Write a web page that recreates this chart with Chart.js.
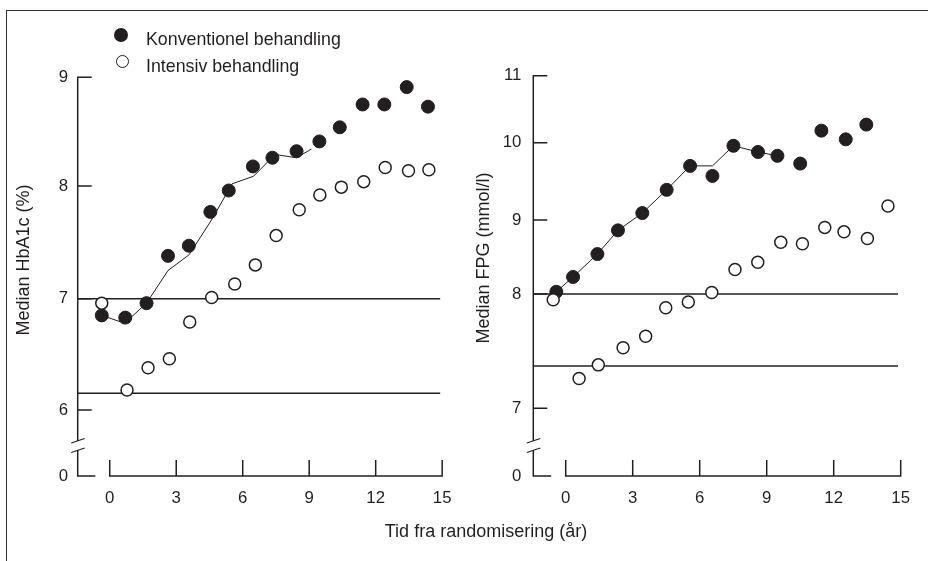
<!DOCTYPE html>
<html>
<head>
<meta charset="utf-8">
<script src="https://cdn.jsdelivr.net/npm/chart.js@4.4.0/dist/chart.umd.min.js"></script>
<style>
  html, body { margin: 0; padding: 0; background: #fff; }
  body { width: 928px; height: 561px; position: relative; overflow: hidden;
         font-family: "Liberation Sans", Arial, Helvetica, sans-serif; color: #231f20; }
  .frame { position: absolute; left: 6px; top: 10px; width: 930px; height: 560px;
           border-top: 1px solid #333; border-left: 1px solid #333; }
  .panel { position: absolute; top: 0; width: 464px; height: 561px; }
  .lg-text { position: absolute; font-size: 17.8px; line-height: 20px; white-space: nowrap; }
  .dot { position: absolute; border-radius: 50%; box-sizing: border-box; }
  .ytitle { position: absolute; width: 240px; height: 20px; line-height: 20px; font-size: 18px;
            text-align: center; white-space: nowrap; transform: rotate(-90deg); }
  #xtitle { position: absolute; left: 286px; top: 521px; width: 400px; text-align: center;
            font-size: 18px; line-height: 20px; }
</style>
</head>
<body>
<div class="frame"></div>
<div class="panel" style="left:0"><canvas id="hba" width="464" height="561"></canvas></div>
<div class="panel" style="left:464px"><canvas id="fpg" width="464" height="561"></canvas></div>

<div class="dot" style="left:114px;top:28px;width:14px;height:14px;background:#231f20"></div>
<div class="lg-text" style="left:146px;top:29px">Konventionel behandling</div>
<div class="dot" style="left:116px;top:54.5px;width:13px;height:13px;border:1.5px solid #231f20;background:#fff"></div>
<div class="lg-text" style="left:146px;top:55.5px">Intensiv behandling</div>

<div class="ytitle" style="left:-97px;top:250px">Median HbA1c (%)</div>
<div class="ytitle" style="left:363px;top:248px">Median FPG (mmol/l)</div>
<div id="xtitle">Tid fra randomisering (år)</div>

<script>
const INK = '#231f20';
const FONT = '"Liberation Sans", Arial, Helvetica, sans-serif';

// --- data ---
const xTickYears = [0, 3, 6, 9, 12, 15];

// HbA1c panel
const hbaTicks = [0, 6, 7, 8, 9];
const hbaConvYears = [-0.36, 0.70, 1.66, 2.63, 3.57, 4.54, 5.37, 6.46, 7.34, 8.43, 9.46, 10.38, 11.41, 12.39, 13.40, 14.36];
const hbaConvValues = [6.85, 6.83, 6.96, 7.38, 7.47, 7.77, 7.96, 8.18, 8.26, 8.32, 8.41, 8.54, 8.75, 8.75, 8.91, 8.73];
const hbaIntYears = [-0.36, 0.78, 1.73, 2.69, 3.61, 4.60, 5.64, 6.57, 7.51, 8.55, 9.48, 10.45, 11.46, 12.43, 13.48, 14.40];
const hbaIntValues = [6.96, 6.18, 6.38, 6.46, 6.79, 7.01, 7.13, 7.30, 7.56, 7.79, 7.92, 7.99, 8.04, 8.17, 8.14, 8.15];
const hbaTrendYears = [-0.36, 0.67, 1.66, 2.63, 3.58, 4.63, 5.52, 6.49, 7.46, 8.43, 9.10];
const hbaTrendValues = [6.85, 6.78, 6.96, 7.25, 7.39, 7.71, 8.02, 8.09, 8.29, 8.26, 8.34];
const hbaRefLevels = [7, 6.15];
const hbaRefEnd = 14.91;

// FPG panel
const fpgTicks = [0, 7, 8, 9, 10, 11];
const fpgConvYears = [-0.42, 0.33, 1.42, 2.34, 3.43, 4.52, 5.57, 6.57, 7.51, 8.61, 9.48, 10.50, 11.45, 12.54, 13.46];
const fpgConvValues = [8.03, 8.23, 8.54, 8.86, 9.09, 9.39, 9.70, 9.57, 9.96, 9.88, 9.83, 9.73, 10.18, 10.05, 10.27];
const fpgIntYears = [-0.56, 0.60, 1.46, 2.57, 3.58, 4.48, 5.49, 6.54, 7.58, 8.60, 9.63, 10.60, 11.60, 12.46, 13.51, 14.43];
const fpgIntValues = [7.95, 7.26, 7.38, 7.53, 7.63, 7.88, 7.93, 8.02, 8.33, 8.43, 8.70, 8.68, 8.90, 8.84, 8.75, 9.18];
const fpgTrendYears = [-0.42, 0.33, 1.42, 2.34, 3.43, 4.52, 5.57, 6.57, 7.51, 8.61, 9.48];
const fpgTrendValues = [8.03, 8.23, 8.54, 8.86, 9.09, 9.39, 9.70, 9.70, 9.96, 9.88, 9.83];
const fpgRefLevels = [8, 7.37];
const fpgRefEnd = 14.88;

// --- layout of the broken y axes (distance of each tick above the 0 line, px) ---
const hbaKnotPos = [0, 66, 177.3, 290, 398.7];
const fpgKnotPos = [0, 67.7, 182, 256, 333.3, 400.3];

// linear scale whose ticks are not evenly spaced (axis is drawn with a break)
class BrokenLinearScale extends Chart.LinearScale {
  getPixelForValue(value) {
    const vals = this.knotVals, pos = this.knotPos;
    if (!vals) return super.getPixelForValue(value);
    let i = 1;
    while (i < vals.length - 1 && value > vals[i]) i++;
    const t = (value - vals[i - 1]) / (vals[i] - vals[i - 1]);
    const p = pos[i - 1] + t * (pos[i] - pos[i - 1]);
    return this.getPixelForDecimal(p / pos[pos.length - 1]);
  }
  getValueForPixel(pixel) {
    const vals = this.knotVals, pos = this.knotPos;
    if (!vals) return super.getValueForPixel(pixel);
    const p = this.getDecimalForPixel(pixel) * pos[pos.length - 1];
    let i = 1;
    while (i < pos.length - 1 && p > pos[i]) i++;
    const t = (p - pos[i - 1]) / (pos[i] - pos[i - 1]);
    return vals[i - 1] + t * (vals[i] - vals[i - 1]);
  }
}
BrokenLinearScale.id = 'brokenLinear';
BrokenLinearScale.defaults = {};
Chart.register(BrokenLinearScale);

const pts = (xs, ys) => xs.map((x, i) => ({ x: x, y: ys[i] }));

// hand drawn style axes: inward ticks, break in the y axis, gap in the x axis
function axisArt(yTicks, stubEnd) {
  return {
    id: 'axisArt',
    beforeDatasetsDraw(chart) {
      const { ctx, scales: { x, y } } = chart;
      const ax = x.getPixelForValue(x.min);
      const y0 = y.getPixelForValue(0);
      const yTop = y.getPixelForValue(yTicks[yTicks.length - 1]);
      ctx.save();
      ctx.strokeStyle = INK;
      ctx.lineWidth = 1.5;
      ctx.beginPath();
      ctx.moveTo(ax + 14, yTop);
      ctx.lineTo(ax, yTop);
      ctx.lineTo(ax, y0 - 35);
      ctx.moveTo(ax, y0 - 26);
      ctx.lineTo(ax, y0);
      ctx.lineTo(x.getPixelForValue(stubEnd), y0);
      yTicks.slice(1, -1).forEach(v => {
        const py = y.getPixelForValue(v);
        ctx.moveTo(ax, py);
        ctx.lineTo(ax + 14, py);
      });
      const first = x.getPixelForValue(xTickYears[0]);
      const last = x.getPixelForValue(xTickYears[xTickYears.length - 1]);
      ctx.moveTo(first, y0 - 16);
      ctx.lineTo(first, y0);
      ctx.lineTo(last, y0);
      ctx.lineTo(last, y0 - 16);
      xTickYears.slice(1, -1).forEach(v => {
        const px = x.getPixelForValue(v);
        ctx.moveTo(px, y0);
        ctx.lineTo(px, y0 - 16);
      });
      ctx.stroke();
      ctx.lineWidth = 1.2;
      ctx.beginPath();
      ctx.moveTo(ax - 6.5, y0 - 33);
      ctx.lineTo(ax + 7, y0 - 37.5);
      ctx.moveTo(ax - 6.5, y0 - 23.5);
      ctx.lineTo(ax + 7, y0 - 28);
      ctx.stroke();
      ctx.restore();
    }
  };
}

function makePanel(id, p) {
  const xMin = p.xMin;
  const datasets = [
    { data: pts(p.intYears, p.intValues), showLine: false, pointRadius: 6, pointBorderWidth: 1.5,
      pointBackgroundColor: '#fff', pointBorderColor: INK, order: 1 },
    { data: pts(p.convYears, p.convValues), showLine: false, pointRadius: 6.5, pointBorderWidth: 1,
      pointBackgroundColor: INK, pointBorderColor: INK, order: 2 },
    { data: pts(p.trendYears, p.trendValues), borderColor: INK, borderWidth: 1, pointRadius: 0,
      tension: 0, order: 3 }
  ];
  p.refLevels.forEach(level => {
    datasets.push({ data: [{ x: xMin, y: level }, { x: p.refEnd, y: level }], borderColor: INK,
      borderWidth: 1.5, pointRadius: 0, order: 4 });
  });

  return new Chart(document.getElementById(id), {
    type: 'line',
    data: { datasets: datasets },
    plugins: [axisArt(p.ticks, -0.65)],
    options: {
      responsive: false,
      animation: false,
      devicePixelRatio: 1,
      layout: { padding: { top: p.top, right: p.right, left: 0, bottom: 0 } },
      elements: { line: { fill: false } },
      datasets: { line: { clip: false } },
      plugins: { legend: { display: false }, tooltip: { enabled: false } },
      scales: {
        x: {
          type: 'linear', min: xMin, max: 15,
          grid: { display: false, drawTicks: false },
          border: { display: false },
          afterBuildTicks: s => { s.ticks = xTickYears.map(v => ({ value: v })); },
          afterFit: s => { s.height = 85; },
          ticks: { color: INK, font: { family: FONT, size: 16.8 }, padding: 12.5, maxRotation: 0,
                   callback: v => String(v) }
        },
        y: {
          type: 'brokenLinear', min: 0, max: p.ticks[p.ticks.length - 1],
          grid: { display: false, drawTicks: false },
          border: { display: false },
          afterDataLimits: s => { s.knotVals = p.ticks; s.knotPos = p.knotPos; },
          afterBuildTicks: s => { s.ticks = p.ticks.map(v => ({ value: v })); },
          afterFit: s => { s.width = p.axisX; },
          ticks: { color: INK, font: { family: FONT, size: 16.8 }, padding: p.labelPad,
                   callback: v => String(v) }
        }
      }
    }
  });
}

makePanel('hba', {
  ticks: hbaTicks, knotPos: hbaKnotPos, xMin: -1.446, top: 77.3, right: 19, axisX: 77.7, labelPad: 9.5,
  convYears: hbaConvYears, convValues: hbaConvValues, intYears: hbaIntYears, intValues: hbaIntValues,
  trendYears: hbaTrendYears, trendValues: hbaTrendValues, refLevels: hbaRefLevels, refEnd: hbaRefEnd
});

makePanel('fpg', {
  ticks: fpgTicks, knotPos: fpgKnotPos, xMin: -1.451, top: 75.7, right: 27.3, axisX: 69.3, labelPad: 12,
  convYears: fpgConvYears, convValues: fpgConvValues, intYears: fpgIntYears, intValues: fpgIntValues,
  trendYears: fpgTrendYears, trendValues: fpgTrendValues, refLevels: fpgRefLevels, refEnd: fpgRefEnd
});
</script>
</body>
</html>
